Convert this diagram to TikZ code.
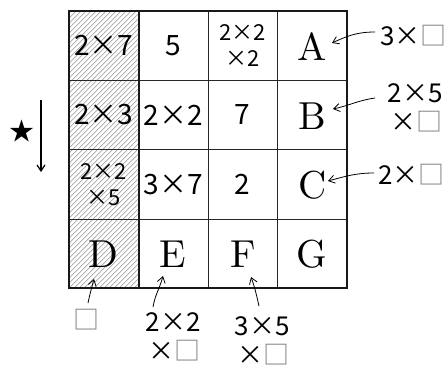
\documentclass[tikz,border=0pt]{standalone}
\usepackage{fontspec}
\newfontfamily\jp{Noto Sans CJK JP}
\newfontfamily\lmten{lmroman10-regular}[Extension=.otf]
\usetikzlibrary{arrows.meta}
\begin{document}
\begin{tikzpicture}[x=1pt,y=-1pt,
  num/.style={font=\jp\fontsize{28}{30}\selectfont, inner sep=0pt},
  numtwo/.style={font=\jp\fontsize{22}{26}\selectfont, align=center, inner sep=0pt},
  lab/.style={font=\jp\fontsize{26}{29}\selectfont, align=right, inner sep=0pt},
  letter/.style={font=\lmten\fontsize{39}{40}\selectfont, inner sep=0pt},
  arr/.style={-{Straight Barb[length=6pt,width=8pt]}, line width=0.8pt},
  gridthin/.style={line width=0.9pt, black!85},
  gridthick/.style={line width=2pt, black!90},
  hatch/.style={gray!85, line width=0.45pt}
]
\useasboundingbox (0,0) rectangle (447,369);
% hatching of first column
\begin{scope}
  \clip (69,11) rectangle (138.5,288.3);
  \foreach \i in {-285,-280,...,75} \draw[hatch] (69+\i,288.3) -- ++(280,-280);
\end{scope}
% grid
\foreach \y in {80.3,149.7,219} \draw[gridthin] (69,\y) -- (347,\y);
\foreach \x in {208,277.5} \draw[gridthin] (\x,11) -- (\x,288.3);
\draw[gridthick] (138.5,11) -- (138.5,288.3);
\draw[gridthick] (69,11) rectangle (347,288.3);
% row 1
\node[num] (c11) at (103.75,45.65) {2×7};
\node[num] (c12) at (173.25,45.65) {5};
\node[numtwo] (c13) at (242.75,45.65) {2×2\\×2};
\node[letter] (A) at (312.25,46.5) {A};
% row 2
\node[num] (c21) at (103.75,114.95) {2×3};
\node[num] (c22) at (173.25,114.95) {2×2};
\node[num] (c23) at (242.75,114.95) {7};
\node[letter] (B) at (312.25,115.8) {B};
% row 3
\node[numtwo] (c31) at (103.75,184.25) {2×2\\×5};
\node[num] (c32) at (173.25,184.25) {3×7};
\node[num] (c33) at (242.75,184.25) {2};
\node[letter] (C) at (312.25,185.1) {C};
% row 4
\node[letter] (D) at (103.75,254.4) {D};
\node[letter] (E) at (173.25,254.4) {E};
\node[letter] (F) at (242.75,254.4) {F};
\node[letter] (G) at (312.25,254.4) {G};
% star and arrow
\node[font=\jp\fontsize{25}{25}\selectfont, inner sep=0pt] (star) at (22,131) {★};
\coordinate (s1) at (41,100);
\coordinate (s2) at (41,172);
\draw[arr, line width=1.2pt] (s1) -- (s2);
% labels
\node[lab, anchor=west] (la) at (380,36) {3×{\color{gray}□}};
\node[lab, anchor=east] (lb) at (443,108) {2×5\\×{\color{gray}□}};
\node[lab, anchor=west] (lc) at (378,175) {2×{\color{gray}□}};
\node[lab] (ld) at (86,320) {{\color{gray}□}};
\node[lab, anchor=north east] (le) at (201,312) {2×2\\×{\color{gray}□}};
\node[lab, anchor=north east] (lf) at (290,316) {3×5\\×{\color{gray}□}};
% arrow ends
\coordinate (a0) at (375,32);  \coordinate (a1) at (332,43);
\coordinate (b0) at (375,98);  \coordinate (b1) at (333,109);
\coordinate (k0) at (374,173); \coordinate (k1) at (328,181);
\coordinate (d0) at (88,303);  \coordinate (d1) at (94,279);
\coordinate (e0) at (153,307); \coordinate (e1) at (163,276);
\coordinate (f0) at (259,306); \coordinate (f1) at (251,277);
\draw[arr] (a0) to[out=180,in=25] (a1);
\draw[arr] (b0) to[out=188,in=12] (b1);
\draw[arr] (k0) to[out=180,in=15] (k1);
\draw[arr] (d0) to[out=78,in=-105] (d1);
\draw[arr] (e0) to[out=80,in=-105] (e1);
\draw[arr] (f0) to[out=103,in=-70] (f1);
\end{tikzpicture}
\end{document}
